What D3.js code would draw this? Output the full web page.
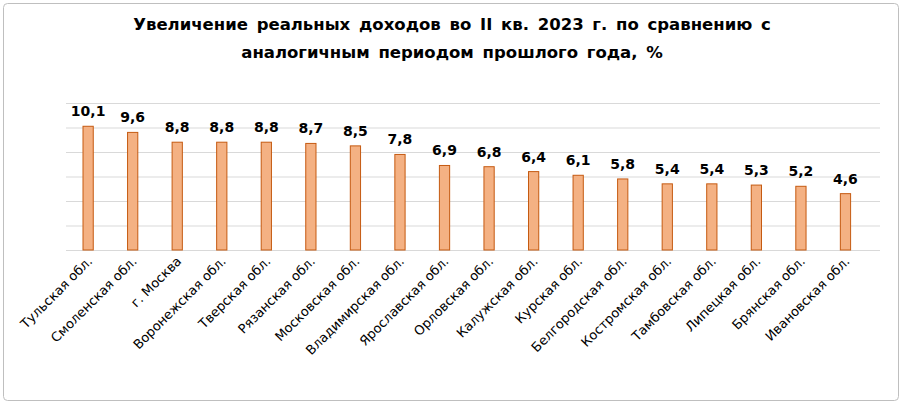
<!DOCTYPE html>
<html><head><meta charset="utf-8">
<script src="https://cdn.jsdelivr.net/npm/d3@7"></script>
<style>body{margin:0;background:#fff;font-family:"DejaVu Sans",Verdana,sans-serif}</style>
</head><body>
<script>
const regions = ['Тульская обл.', 'Смоленская обл.', 'г. Москва', 'Воронежская обл.', 'Тверская обл.', 'Рязанская обл.', 'Московская обл.', 'Владимирская обл.', 'Ярославская обл.', 'Орловская обл.', 'Калужская обл.', 'Курская обл.', 'Белгородская обл.', 'Костромская обл.', 'Тамбовская обл.', 'Липецкая обл.', 'Брянская обл.', 'Ивановская обл.'];
const values = [10.1, 9.6, 8.8, 8.8, 8.8, 8.7, 8.5, 7.8, 6.9, 6.8, 6.4, 6.1, 5.8, 5.4, 5.4, 5.3, 5.2, 4.6];
const gridTicks = [2, 4, 6, 8, 10, 12];

const W = 903, H = 405;
const svg = d3.select('body').append('svg').attr('width', W).attr('height', H);

svg.append('rect').attr('x', 3.5).attr('y', 3.5).attr('width', W - 8).attr('height', H - 8)
  .attr('rx', 4).attr('fill', '#fff').attr('stroke', '#bfbfbf');

const title = svg.append('text').attr('text-anchor', 'middle')
  .attr('font-size', 16.5).attr('font-weight', 'bold').attr('fill', '#000')
  .style('word-spacing', '3px');
title.append('tspan').attr('x', 452).attr('y', 30).text('Увеличение реальных доходов во II кв. 2023 г. по сравнению с');
title.append('tspan').attr('x', 452).attr('y', 58).text('аналогичным периодом прошлого года, %');

const x = d3.scaleBand().domain(regions).range([83, 850.6]).paddingInner(0.77).paddingOuter(0);
const y = d3.scaleLinear().domain([0, 12]).range([250, 103]);

svg.append('g').selectAll('line').data([0].concat(gridTicks)).join('line')
  .attr('x1', 66).attr('x2', 880)
  .attr('y1', d => y(d) + 0.5).attr('y2', d => y(d) + 0.5)
  .attr('stroke', '#d9d9d9');

svg.append('g').selectAll('rect').data(values).join('rect')
  .attr('x', (d, i) => x(regions[i]))
  .attr('y', d => y(d))
  .attr('width', x.bandwidth())
  .attr('height', d => y(0) - y(d))
  .attr('fill', '#f4b183').attr('stroke', '#c55a11').attr('stroke-width', 1);

svg.append('g').selectAll('text').data(values).join('text')
  .attr('x', (d, i) => x(regions[i]) + x.bandwidth() / 2)
  .attr('y', d => y(d) - 10)
  .attr('text-anchor', 'middle').attr('font-size', 14).attr('font-weight', 'bold')
  .text(d => String(d).replace('.', ','));

svg.append('g').selectAll('text').data(regions).join('text')
  .attr('transform', d => `translate(${x(d) + x.bandwidth() / 2 + 5},${y(0) + 12}) rotate(-45)`)
  .attr('text-anchor', 'end').attr('font-size', 13).attr('fill', '#000')
  .text(d => d);
</script>
</body></html>
